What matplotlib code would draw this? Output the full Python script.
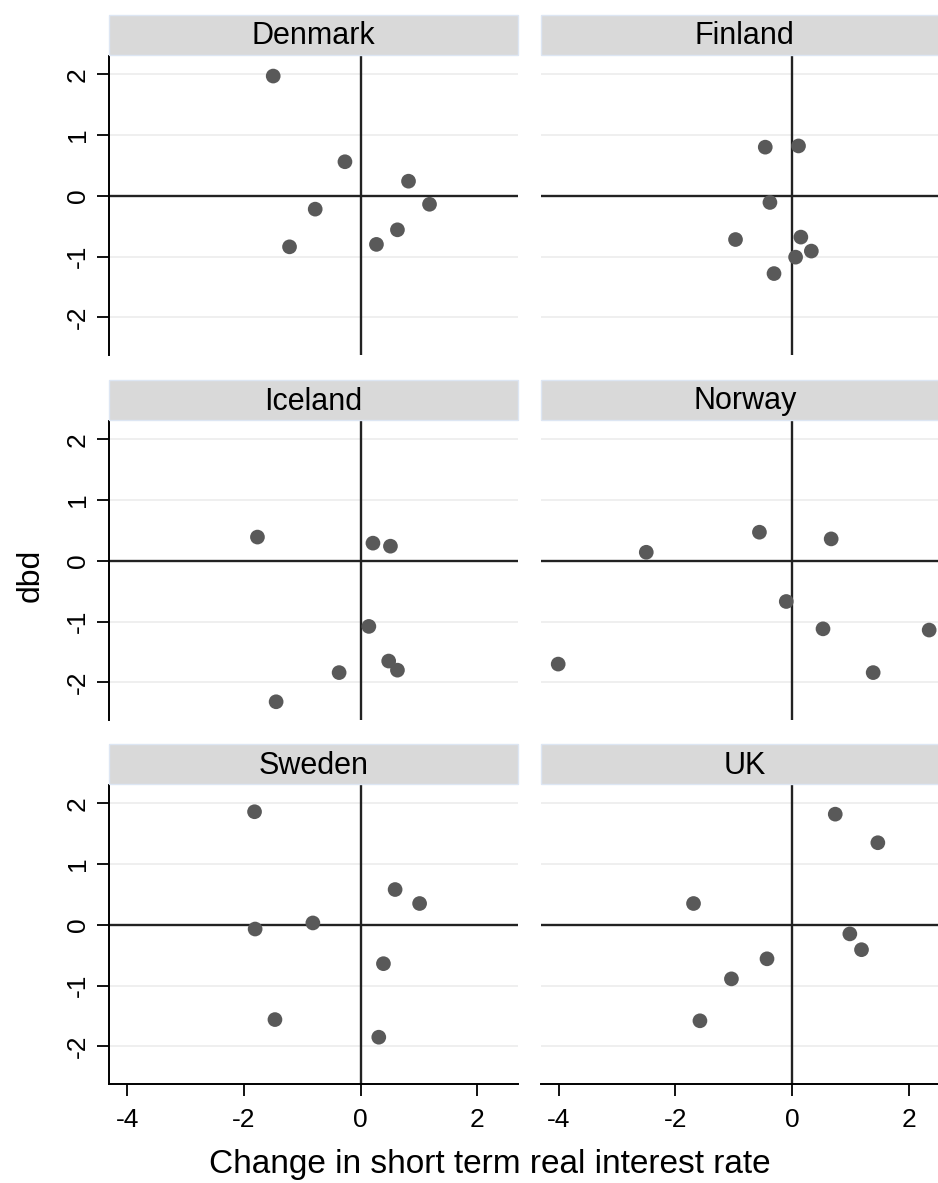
import matplotlib
matplotlib.use("Agg")
import matplotlib.pyplot as plt
from matplotlib.patches import Rectangle

plt.rcParams['font.family'] = ['Liberation Sans', 'DejaVu Sans']

countries = ["Denmark", "Finland", "Iceland", "Norway", "Sweden", "UK"]

denmark_x = [-1.50, -0.27, 0.82, 1.18, -0.78, 0.63, 0.27, -1.22]
denmark_y = [1.97, 0.56, 0.24, -0.14, -0.22, -0.56, -0.80, -0.84]
finland_x = [-0.46, 0.11, -0.38, -0.97, 0.15, 0.33, 0.06, -0.31]
finland_y = [0.80, 0.82, -0.11, -0.72, -0.68, -0.91, -1.01, -1.28]
iceland_x = [-1.77, 0.21, 0.51, 0.14, 0.48, 0.63, -0.37, -1.45]
iceland_y = [0.39, 0.29, 0.24, -1.08, -1.65, -1.80, -1.84, -2.32]
norway_x = [-4.01, -2.50, -0.56, 0.67, -0.10, 0.53, 2.35, 1.39]
norway_y = [-1.70, 0.14, 0.47, 0.36, -0.67, -1.12, -1.14, -1.84]
sweden_x = [-1.82, 0.59, 1.01, -0.82, -1.81, 0.39, -1.47, 0.31]
sweden_y = [1.86, 0.58, 0.35, 0.03, -0.07, -0.64, -1.56, -1.85]
uk_x = [0.74, 1.47, -1.69, 0.99, 1.19, -0.43, -1.04, -1.58]
uk_y = [1.82, 1.35, 0.35, -0.15, -0.41, -0.56, -0.89, -1.58]

xs = [denmark_x, finland_x, iceland_x, norway_x, sweden_x, uk_x]
ys = [denmark_y, finland_y, iceland_y, norway_y, sweden_y, uk_y]

x_ticks = [-4, -2, 0, 2]
y_ticks = [-2, -1, 0, 1, 2]
x_label = "Change in short term real interest rate"
y_label = "dbd"

W, H = 938, 1183
fig = plt.figure(figsize=(W / 100, H / 100), dpi=100)

col_x = [109.3, 540.7]
col_w = 408.3
row_top = [56, 421, 785]
row_h = 299

for i, name in enumerate(countries):
    r, c = divmod(i, 2)
    left = col_x[c] / W
    bottom = 1 - (row_top[r] + row_h) / H
    ax = fig.add_axes([left, bottom, col_w / W, row_h / H])
    ax.set_xlim(-4.31, 2.69)
    ax.set_ylim(-2.62, 2.30)
    for yt in y_ticks:
        ax.axhline(yt, color='#eeeeee', lw=1.3, zorder=0)
    ax.axhline(0, color='#222222', lw=1.7, zorder=1)
    ax.axvline(0, color='#222222', lw=1.7, zorder=1)
    ax.scatter(xs[i], ys[i], s=112, color='#595959', edgecolors='none', zorder=3)

    for sp in ax.spines.values():
        sp.set_visible(False)
    ax.set_xticks(x_ticks)
    ax.set_yticks(y_ticks)
    ax.set_xticklabels([str(t) for t in x_ticks])
    ax.set_yticklabels([str(t) for t in y_ticks])
    ax.tick_params(axis='both', length=8.6, width=1.3, color='black', labelsize=19,
                   direction='out')
    ax.tick_params(axis='x', pad=8.5)
    ax.tick_params(axis='y', pad=5.5, labelrotation=90)
    for lab in ax.get_yticklabels():
        lab.set_va('center')

    if c == 0:
        ax.spines['left'].set_visible(True)
        ax.spines['left'].set_linewidth(1.4)
        ax.spines['left'].set_color('black')
    else:
        ax.tick_params(axis='y', left=False, labelleft=False)
    if r == 2:
        ax.spines['bottom'].set_visible(True)
        ax.spines['bottom'].set_linewidth(1.4)
        ax.spines['bottom'].set_color('black')
    else:
        ax.tick_params(axis='x', bottom=False, labelbottom=False)

    # strip
    strip_h = 40 / row_h
    gap = 1 / row_h
    ax.add_patch(Rectangle((0, 1 + gap), 1, strip_h, transform=ax.transAxes,
                           facecolor='#d9d9d9', edgecolor='#dde6f3', lw=1.0,
                           clip_on=False, zorder=5))
    ax.text(0.5, 1 + 11.5 / row_h, name, transform=ax.transAxes, ha='center',
            va='baseline', fontsize=22, color='black', zorder=6, clip_on=False)

fig.text(209 / W, 1 - 1173 / H, x_label, ha='left', va='baseline', fontsize=24)
fig.text(31 / W, 1 - 575 / H, y_label, ha='center', va='center', rotation=90,
         fontsize=23)

fig.savefig("out.png", dpi=100)
